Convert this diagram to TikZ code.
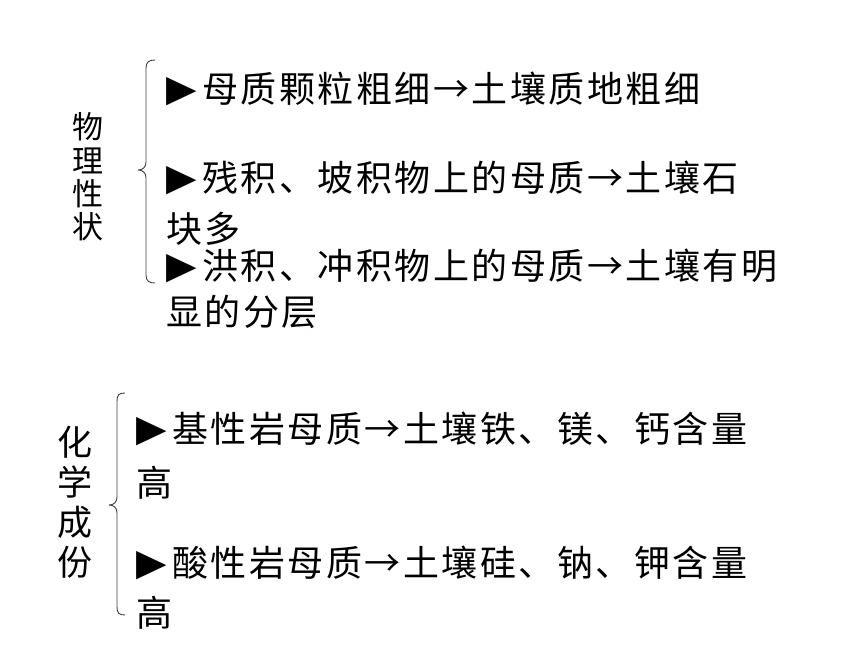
\documentclass[tikz,border=0pt]{standalone}
\usepackage{fontspec}
\usepackage{graphicx}
\newfontfamily\cjk[LetterSpace=7]{Noto Sans CJK SC}
\newfontfamily\cjkplain{Noto Sans CJK SC}
\newfontfamily\djv{DejaVu Sans}
\newcommand{\bul}{\makebox[36pt][l]{\raisebox{-4pt}{\scalebox{0.9}[1.3]{\djv\fontsize{44pt}{44pt}\selectfont ►}}}}
\tikzset{
  line/.style={anchor=base west, inner sep=0pt, font=\cjk\fontsize{36pt}{40pt}\selectfont},
  vlabel/.style={anchor=center, inner sep=0pt, align=center},
  bracepath/.style={draw=black!75, line width=0.9pt, line join=round}
}
\begin{document}
\begin{tikzpicture}[x=1pt,y=-1pt]
\fill[white] (0,0) rectangle (860,645);
\useasboundingbox (0,0) rectangle (860,645);

% group 1
\node[vlabel, font=\cjkplain\fontsize{31pt}{33.3pt}\selectfont] (lab1) at (88,177) {物\\理\\性\\状};
\draw[bracepath] (155,60) .. controls (149,60) and (146,62) .. (146,68)
  -- (146,162) .. controls (146,167) and (143,170) .. (138,170)
  .. controls (143,170) and (146,173) .. (146,178)
  -- (146,275) .. controls (146,281) and (149,283) .. (155,283);
\node[line] (l1) at (166,102) {\bul 母质颗粒粗细→土壤质地粗细};
\node[line] (l2) at (166,191) {\bul 残积、坡积物上的母质→土壤石};
\node[line] (l2b) at (166,242) {块多};
\node[line] (l3) at (166,279) {\bul 洪积、冲积物上的母质→土壤有明};
\node[line] (l3b) at (166,325) {显的分层};

% group 2
\node[vlabel, font=\cjkplain\fontsize{35pt}{40pt}\selectfont] (lab2) at (75,502) {化\\学\\成\\份};
\draw[bracepath] (125,393) .. controls (119,393) and (117,395) .. (117,401)
  -- (117,497) .. controls (117,502) and (114,505) .. (109,505)
  .. controls (114,505) and (117,508) .. (117,513)
  -- (117,607) .. controls (117,613) and (119,615) .. (125,615);
\node[line] (l4) at (136,442) {\bul 基性岩母质→土壤铁、镁、钙含量};
\node[line] (l4b) at (136,496) {高};
\node[line] (l5) at (136,576) {\bul 酸性岩母质→土壤硅、钠、钾含量};
\node[line] (l5b) at (136,626) {高};
\end{tikzpicture}
\end{document}
